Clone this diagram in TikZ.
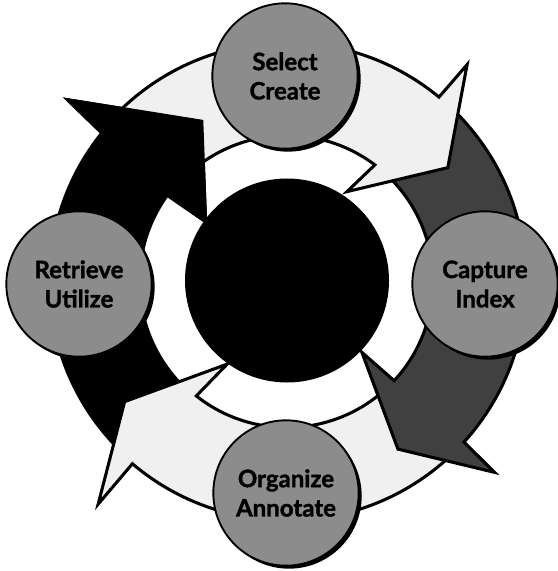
\documentclass[tikz,border=0pt]{standalone}
\usepackage{fontspec}
\setmainfont{Lato}[BoldFeatures={FakeBold=1.5}]
\usetikzlibrary{shadows}
\definecolor{lightfill}{gray}{0.94}
\definecolor{darkfill}{gray}{0.25}
\definecolor{stagefill}{gray}{0.55}
\begin{document}
\begin{tikzpicture}[x=0.03cm,y=0.03cm,
  outl/.style={draw=black,line width=2.6pt,line join=miter,miter limit=25},
  lightarrow/.style={outl,fill=lightfill},
  darkarrow/.style={outl,fill=darkfill},
  stage/.style={circle,fill=stagefill,draw=black,line width=1.6pt,
    minimum size=4.36cm,inner sep=0pt,align=center,
    font=\fontsize{20.5}{25}\selectfont\bfseries,
    drop shadow={shadow xshift=0.09cm,shadow yshift=-0.09cm,fill=black,opacity=1}},
  hubstyle/.style={circle,fill=black,minimum size=6.12cm,inner sep=0pt}]
\useasboundingbox (0,0) rectangle (557,-571);
\coordinate (C) at (287,-281.5);
\begin{scope}[shift={(C)}]
  % black arrow (left, going up)
  \fill[black] (225:239) arc[start angle=225,end angle=141.6,radius=239]
     -- (140.6:290) -- (117.4:182) -- (144.5:98) -- (144.8:146)
     arc[start angle=144.8,end angle=225,radius=146] -- cycle;
  % bottom light arrow
  \filldraw[lightarrow] (-47:239) arc[start angle=-47,end angle=-130.3,radius=239]
     -- (-130.3:292) -- (-143.5:202) -- (-125.9:102) -- (-128.4:146)
     arc[start angle=-128.4,end angle=-47,radius=146] -- cycle;
  % dark arrow (right)
  \filldraw[darkarrow] (46:239) arc[start angle=46,end angle=-42.2,radius=239]
     -- (-42.6:282) -- (-56.5:201) -- (-43.4:103) -- (-42.8:146)
     arc[start angle=-42.8,end angle=46,radius=146] -- cycle;
  % top light arrow
  \filldraw[lightarrow] (135:239) arc[start angle=135,end angle=50.5,radius=239]
     -- (50.3:282) -- (35.3:197) -- (56.3:108) -- (53:146)
     arc[start angle=53,end angle=135,radius=146] -- cycle;
  % black arrow head again, over the tail of the top arrow
  \fill[black] (141.6:239) -- (140.6:290) -- (117.4:182) -- (144.5:98) -- (144.8:146) -- cycle;
\end{scope}
\node[hubstyle] (hub) at (287,-280.5) {};
\node[stage] (sel) at (285,-76) {Select\\Create};
\node[stage] (cap) at (485,-284) {Capture\\Index};
\node[stage] (org) at (286,-493) {Organize\\Annotate};
\node[stage] (ret) at (79,-284) {Retrieve\\Utilize};
\end{tikzpicture}
\end{document}
